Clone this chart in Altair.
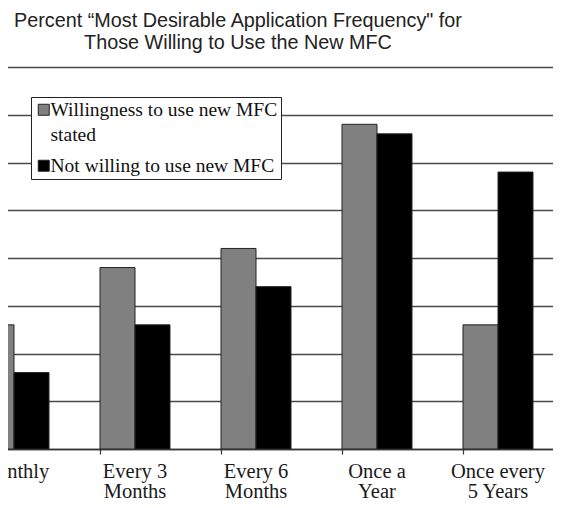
import altair as alt
import pandas as pd

categories = ["Monthly", "Every 3|Months", "Every 6|Months", "Once a|Year", "Once every|5 Years"]
series = ["Willingness to use new MFC|stated", "Not willing to use new MFC"]
willing = [13, 19, 21, 34, 13]
not_willing = [8, 13, 17, 33, 29]
grid_values = [0, 5, 10, 15, 20, 25, 30, 35, 40]
title_lines = ["Percent \u201cMost Desirable Application Frequency\" for",
               "Those Willing to Use the New MFC"]

rows = []
for c, a, b in zip(categories, willing, not_willing):
    rows.append({"cat": c, "series": series[0], "value": a})
    rows.append({"cat": c, "series": series[1], "value": b})
df = pd.DataFrame(rows)

chart = alt.Chart(df).mark_bar(clip=True, stroke="#222", strokeWidth=1).encode(
    x=alt.X("cat:N", sort=categories,
            scale=alt.Scale(range=[-46.5, 558.5], paddingInner=0.4215, paddingOuter=0.21075),
            axis=alt.Axis(title=None, labelExpr="split(datum.label, '|')", bandPosition=0,
                          labelAngle=0, labelFont="Liberation Serif", labelFontSize=20.5,
                          labelColor="#1a1a1a", labelLineHeight=20, labelPadding=7,
                          labelLimit=300, labelOverlap=False,
                          tickSize=5, tickColor="#333", tickWidth=1.2,
                          domainColor="#333", domainWidth=1.5, grid=False)),
    xOffset=alt.XOffset("series:N", sort=series,
                        scale=alt.Scale(paddingInner=0, paddingOuter=0)),
    y=alt.Y("value:Q", scale=alt.Scale(domain=[0, 40]),
            axis=alt.Axis(title=None, labels=False, ticks=False, domain=False,
                          values=grid_values, grid=True, gridColor="#4a4a4a",
                          gridWidth=1.5)),
    color=alt.Color("series:N", scale=alt.Scale(domain=series, range=["#808080", "#000000"]),
                    legend=alt.Legend(title=None, orient="none", legendX=31, legendY=30,
                                      fillColor="white", strokeColor="#222", padding=3,
                                      labelFont="Liberation Serif", labelFontSize=19.5,
                                      labelColor="#111", labelLimit=400,
                                      labelExpr="split(datum.label, '|')",
                                      symbolType="square", symbolSize=121,
                                      symbolStrokeColor="#222", symbolStrokeWidth=1,
                                      labelOffset=alt.ExprRef("-3"), rowPadding=10)),
).properties(
    width=553, height=382,
    title=alt.TitleParams(title_lines, font="Liberation Sans", fontSize=19.8, fontWeight="normal",
                          color="#222", anchor="middle", dx=-38.5, offset=14, lineHeight=22),
    autosize=alt.AutoSizeParams(type="none"),
    padding={"left": -8, "top": 59, "right": 0, "bottom": 51},
).configure_view(stroke=None).configure(
    background="white", style={"guide-label": {"lineHeight": 25}}
)

chart.save("out.html", embed_options={"renderer": "svg", "actions": False})
